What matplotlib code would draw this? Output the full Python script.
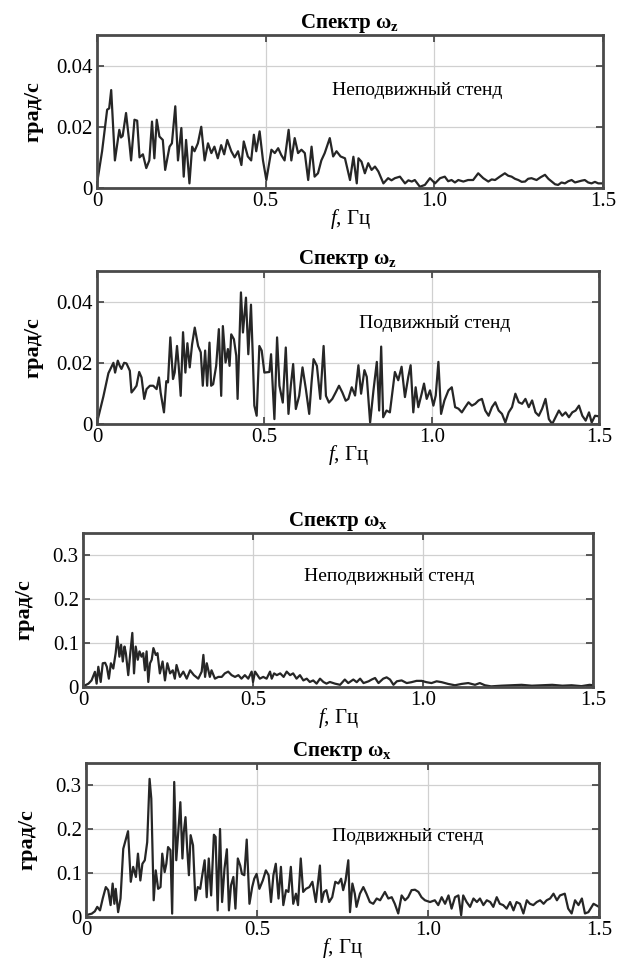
import numpy as np
import matplotlib.pyplot as plt

plt.rcParams['font.family'] = ['Liberation Serif', 'DejaVu Serif']
plt.rcParams['mathtext.fontset'] = 'custom'
plt.rcParams['mathtext.rm'] = 'Liberation Serif'
plt.rcParams['mathtext.it'] = 'Liberation Serif:italic'
plt.rcParams['mathtext.bf'] = 'Liberation Serif:bold'

# --- спектр omega_z, неподвижный стенд ---
f_z_fix = [0, 0.015, 0.030, 0.036, 0.042, 0.053, 0.066, 0.071, 0.076, 0.086, 0.096, 0.101,
           0.111, 0.119, 0.126, 0.136, 0.146, 0.155, 0.163, 0.170, 0.177, 0.185, 0.195,
           0.202, 0.215, 0.222, 0.232, 0.240, 0.250, 0.257, 0.264, 0.274, 0.282, 0.289,
           0.299, 0.309, 0.319, 0.329, 0.339, 0.348, 0.358, 0.368, 0.377, 0.386, 0.398,
           0.408, 0.418, 0.428, 0.435, 0.447, 0.457, 0.465, 0.472, 0.482, 0.492, 0.502,
           0.517, 0.527, 0.537, 0.546, 0.556, 0.568, 0.576, 0.586, 0.596, 0.606, 0.616,
           0.626, 0.636, 0.645, 0.655, 0.665, 0.675, 0.690, 0.700, 0.710, 0.722, 0.735,
           0.750, 0.760, 0.770, 0.775, 0.784, 0.794, 0.804, 0.814, 0.824, 0.834, 0.849,
           0.863, 0.873, 0.883, 0.898, 0.913, 0.923, 0.933, 0.942, 0.957, 0.972, 0.987,
           1.002, 1.017, 1.031, 1.041, 1.051, 1.061, 1.071, 1.086, 1.100, 1.115, 1.130,
           1.145, 1.160, 1.170, 1.180, 1.194, 1.209, 1.219, 1.229, 1.239, 1.249, 1.259,
           1.269, 1.278, 1.288, 1.303, 1.315, 1.328, 1.338, 1.348, 1.358, 1.367, 1.377,
           1.387, 1.397, 1.407, 1.417, 1.427, 1.437, 1.446, 1.456, 1.466, 1.476, 1.486, 1.500]
a_z_fix = [0.0015, 0.012, 0.0256, 0.026, 0.032, 0.009, 0.019, 0.0165, 0.017, 0.0245, 0.0146, 0.009,
           0.0223, 0.022, 0.010, 0.011, 0.0065, 0.009, 0.0217, 0.0097, 0.0223, 0.0168, 0.0157,
           0.0059, 0.0135, 0.0146, 0.0267, 0.009, 0.0196, 0.0037, 0.0157, 0.0015, 0.0135, 0.012,
           0.0146, 0.020, 0.009, 0.0146, 0.0114, 0.0135, 0.0097, 0.014, 0.011, 0.0157, 0.012,
           0.010, 0.012, 0.0075, 0.0152, 0.0103, 0.009, 0.0174, 0.012, 0.0185, 0.009, 0.0026,
           0.0125, 0.0114, 0.013, 0.0108, 0.009, 0.019, 0.009, 0.0163, 0.0114, 0.0125, 0.0114,
           0.0026, 0.0135, 0.0037, 0.0048, 0.009, 0.0114, 0.0163, 0.0103, 0.012, 0.0103, 0.0097,
           0.0026, 0.0102, 0.0015, 0.0097, 0.0086, 0.0048, 0.0081, 0.0059, 0.0070, 0.0054, 0.0015,
           0.0032, 0.0025, 0.0032, 0.0037, 0.0015, 0.0025, 0.0021, 0.0026, 0.0004, 0.0010, 0.0032,
           0.0015, 0.0032, 0.0037, 0.0022, 0.0026, 0.0018, 0.0026, 0.0021, 0.0026, 0.0026, 0.0048,
           0.0032, 0.0021, 0.0028, 0.0026, 0.0037, 0.0048, 0.0040, 0.0037, 0.0030, 0.0026, 0.0020,
           0.0021, 0.0030, 0.0032, 0.0026, 0.0035, 0.0043, 0.0030, 0.0021, 0.0012, 0.0010, 0.0018,
           0.0015, 0.0022, 0.0026, 0.0018, 0.0021, 0.0024, 0.0026, 0.0018, 0.0015, 0.0020, 0.0015, 0.0015]

# --- спектр omega_z, подвижный стенд ---
f_z_mov = [0, 0.019, 0.034, 0.049, 0.054, 0.062, 0.068, 0.073, 0.081, 0.088, 0.098, 0.103,
           0.111, 0.118, 0.126, 0.133, 0.141, 0.148, 0.158, 0.168, 0.178, 0.185, 0.190, 0.200,
           0.207, 0.212, 0.219, 0.227, 0.232, 0.239, 0.244, 0.250, 0.257, 0.264, 0.270, 0.277,
           0.284, 0.292, 0.302, 0.310, 0.316, 0.323, 0.329, 0.336, 0.341, 0.347, 0.356, 0.364,
           0.371, 0.376, 0.384, 0.391, 0.396, 0.401, 0.409, 0.416, 0.420, 0.430, 0.436, 0.445,
           0.452, 0.460, 0.465, 0.470, 0.477, 0.485, 0.492, 0.500, 0.515, 0.520, 0.530, 0.538,
           0.545, 0.555, 0.564, 0.572, 0.579, 0.586, 0.594, 0.604, 0.614, 0.624, 0.634, 0.641,
           0.647, 0.657, 0.667, 0.677, 0.684, 0.693, 0.703, 0.713, 0.723, 0.733, 0.743, 0.751,
           0.761, 0.771, 0.781, 0.789, 0.799, 0.806, 0.816, 0.826, 0.836, 0.843, 0.849, 0.855,
           0.865, 0.875, 0.890, 0.900, 0.910, 0.920, 0.930, 0.937, 0.945, 0.952, 0.960, 0.970,
           0.977, 0.985, 0.995, 1.005, 1.012, 1.020, 1.028, 1.038, 1.050, 1.060, 1.070, 1.080,
           1.090, 1.100, 1.110, 1.120, 1.130, 1.140, 1.150, 1.160, 1.170, 1.180, 1.190, 1.200,
           1.210, 1.220, 1.230, 1.240, 1.250, 1.260, 1.270, 1.280, 1.290, 1.300, 1.310, 1.320,
           1.330, 1.340, 1.350, 1.360, 1.370, 1.380, 1.390, 1.400, 1.410, 1.420, 1.430, 1.440,
           1.450, 1.460, 1.470, 1.478, 1.488, 1.500]
a_z_mov = [0.0005, 0.009, 0.0166, 0.020, 0.0168, 0.0207, 0.019, 0.018, 0.020, 0.0198, 0.0174, 0.0103,
           0.0114, 0.0125, 0.017, 0.0152, 0.0082, 0.0114, 0.0125, 0.0125, 0.0114, 0.0152, 0.0103, 0.0038,
           0.014, 0.0136, 0.0283, 0.0147, 0.0168, 0.0255, 0.019, 0.0092, 0.030, 0.0168, 0.0264, 0.0185,
           0.026, 0.0315, 0.0255, 0.0234, 0.0125, 0.024, 0.0125, 0.0266, 0.0125, 0.013, 0.019, 0.031,
           0.0092, 0.032, 0.0201, 0.0245, 0.019, 0.0293, 0.0277, 0.0223, 0.0082, 0.043, 0.0299, 0.0413,
           0.0228, 0.039, 0.0234, 0.006, 0.0027, 0.0255, 0.024, 0.0168, 0.017, 0.0228, 0.0016, 0.0283,
           0.0125, 0.007, 0.025, 0.0033, 0.0125, 0.0196, 0.0049, 0.0092, 0.0185, 0.0114, 0.0033, 0.0136,
           0.0212, 0.019, 0.0082, 0.0255, 0.0092, 0.007, 0.0082, 0.0103, 0.0125, 0.0103, 0.0076, 0.0082,
           0.012, 0.0093, 0.0192, 0.0099, 0.0176, 0.0154, 0.0005, 0.011, 0.0203, 0.0044, 0.0253, 0.0022,
           0.0044, 0.0038, 0.017, 0.0143, 0.0187, 0.0088, 0.0154, 0.0192, 0.0038, 0.012, 0.0055, 0.0099,
           0.0132, 0.0082, 0.011, 0.006, 0.0093, 0.0203, 0.0033, 0.0077, 0.011, 0.012, 0.0055, 0.005,
           0.0038, 0.0055, 0.0071, 0.006, 0.0066, 0.0077, 0.0082, 0.0044, 0.0027, 0.0055, 0.0071, 0.0044,
           0.0033, 0.0005, 0.0038, 0.0055, 0.0099, 0.0071, 0.0066, 0.0082, 0.0055, 0.0077, 0.0038, 0.0027,
           0.005, 0.0082, 0.0016, 0.0, 0.0022, 0.0044, 0.0027, 0.0038, 0.0022, 0.0038, 0.0044, 0.006,
           0.0027, 0.0011, 0.0038, 0.0005, 0.0027, 0.0025]

# --- спектр omega_x, неподвижный стенд ---
f_x_fix = [0, 0.016, 0.025, 0.035, 0.040, 0.045, 0.052, 0.058, 0.065, 0.070, 0.076, 0.082,
           0.089, 0.096, 0.101, 0.107, 0.112, 0.117, 0.122, 0.126, 0.133, 0.138, 0.145, 0.150,
           0.155, 0.161, 0.166, 0.172, 0.177, 0.182, 0.187, 0.192, 0.197, 0.202, 0.207, 0.214,
           0.219, 0.226, 0.234, 0.241, 0.248, 0.256, 0.264, 0.270, 0.275, 0.285, 0.295, 0.305,
           0.315, 0.326, 0.339, 0.349, 0.354, 0.359, 0.364, 0.373, 0.378, 0.388, 0.398, 0.408,
           0.417, 0.427, 0.437, 0.447, 0.457, 0.466, 0.476, 0.486, 0.496, 0.500, 0.506, 0.513,
           0.520, 0.530, 0.540, 0.550, 0.555, 0.562, 0.570, 0.580, 0.590, 0.599, 0.609, 0.618,
           0.628, 0.638, 0.648, 0.658, 0.667, 0.677, 0.687, 0.697, 0.707, 0.716, 0.726, 0.741,
           0.756, 0.770, 0.780, 0.795, 0.805, 0.815, 0.825, 0.840, 0.849, 0.859, 0.869, 0.883,
           0.893, 0.903, 0.913, 0.923, 0.937, 0.952, 0.966, 0.981, 0.996, 1.010, 1.025, 1.040,
           1.055, 1.074, 1.094, 1.113, 1.133, 1.153, 1.167, 1.182, 1.200, 1.230, 1.260, 1.290,
           1.320, 1.350, 1.380, 1.410, 1.437, 1.466, 1.490, 1.500]
a_x_fix = [0.0015, 0.0077, 0.015, 0.0346, 0.0077, 0.046, 0.0115, 0.054, 0.055, 0.046, 0.019, 0.054,
           0.042, 0.077, 0.115, 0.069, 0.096, 0.058, 0.092, 0.077, 0.027, 0.069, 0.123, 0.031,
           0.092, 0.062, 0.081, 0.069, 0.077, 0.038, 0.081, 0.0115, 0.054, 0.062, 0.0885, 0.073,
           0.077, 0.031, 0.058, 0.015, 0.054, 0.031, 0.038, 0.019, 0.050, 0.023, 0.035, 0.019,
           0.038, 0.027, 0.019, 0.035, 0.073, 0.023, 0.054, 0.023, 0.038, 0.019, 0.023, 0.023,
           0.031, 0.035, 0.027, 0.023, 0.027, 0.019, 0.027, 0.019, 0.035, 0.0115, 0.035, 0.027,
           0.019, 0.023, 0.019, 0.035, 0.019, 0.031, 0.027, 0.031, 0.023, 0.035, 0.027, 0.031,
           0.019, 0.027, 0.015, 0.019, 0.0115, 0.015, 0.0077, 0.019, 0.0115, 0.0077, 0.0115, 0.0077,
           0.005, 0.017, 0.009, 0.017, 0.011, 0.019, 0.009, 0.013, 0.017, 0.0205, 0.009, 0.019,
           0.022, 0.017, 0.005, 0.013, 0.015, 0.009, 0.011, 0.014, 0.014, 0.011, 0.009, 0.013,
           0.011, 0.007, 0.004, 0.007, 0.009, 0.005, 0.009, 0.004, 0.0015, 0.003, 0.004, 0.005,
           0.003, 0.004, 0.005, 0.003, 0.004, 0.002, 0.005, 0.004]

# --- спектр omega_x, подвижный стенд ---
f_x_mov = [0, 0.017, 0.026, 0.033, 0.041, 0.049, 0.058, 0.065, 0.072, 0.078, 0.083, 0.087,
           0.094, 0.101, 0.109, 0.117, 0.123, 0.131, 0.138, 0.146, 0.152, 0.159, 0.165, 0.172,
           0.179, 0.186, 0.191, 0.198, 0.204, 0.211, 0.218, 0.223, 0.230, 0.235, 0.240, 0.247,
           0.252, 0.258, 0.264, 0.271, 0.276, 0.282, 0.286, 0.291, 0.296, 0.301, 0.306, 0.313,
           0.320, 0.327, 0.334, 0.340, 0.347, 0.353, 0.359, 0.366, 0.374, 0.379, 0.385, 0.392,
           0.398, 0.405, 0.412, 0.418, 0.424, 0.431, 0.437, 0.444, 0.451, 0.456, 0.463, 0.470,
           0.478, 0.486, 0.492, 0.499, 0.507, 0.517, 0.526, 0.534, 0.541, 0.548, 0.555, 0.563,
           0.570, 0.577, 0.585, 0.592, 0.599, 0.606, 0.614, 0.620, 0.628, 0.635, 0.643, 0.653,
           0.662, 0.672, 0.684, 0.689, 0.696, 0.703, 0.711, 0.720, 0.729, 0.738, 0.746, 0.752,
           0.759, 0.767, 0.772, 0.779, 0.786, 0.791, 0.801, 0.811, 0.820, 0.830, 0.840, 0.850,
           0.860, 0.874, 0.884, 0.894, 0.903, 0.913, 0.923, 0.933, 0.942, 0.952, 0.962, 0.972,
           0.981, 0.991, 1.006, 1.020, 1.030, 1.040, 1.050, 1.060, 1.069, 1.079, 1.089, 1.097,
           1.103, 1.113, 1.123, 1.133, 1.143, 1.152, 1.162, 1.172, 1.182, 1.191, 1.201, 1.210,
           1.220, 1.230, 1.240, 1.250, 1.259, 1.269, 1.279, 1.289, 1.298, 1.308, 1.318, 1.328,
           1.338, 1.347, 1.357, 1.367, 1.377, 1.386, 1.400, 1.410, 1.420, 1.430, 1.440, 1.450,
           1.459, 1.469, 1.484, 1.500]
a_x_mov = [0.004, 0.0076, 0.013, 0.023, 0.015, 0.042, 0.068, 0.061, 0.027, 0.076, 0.030, 0.064,
           0.011, 0.042, 0.155, 0.178, 0.195, 0.080, 0.114, 0.091, 0.144, 0.083, 0.121, 0.129,
           0.170, 0.314, 0.269, 0.038, 0.106, 0.064, 0.068, 0.144, 0.102, 0.121, 0.159, 0.152,
           0.0076, 0.307, 0.129, 0.208, 0.261, 0.133, 0.193, 0.227, 0.155, 0.095, 0.186, 0.163,
           0.038, 0.068, 0.064, 0.095, 0.129, 0.045, 0.133, 0.049, 0.187, 0.182, 0.015, 0.200,
           0.034, 0.110, 0.154, 0.015, 0.072, 0.091, 0.019, 0.133, 0.117, 0.098, 0.095, 0.176,
           0.030, 0.068, 0.087, 0.098, 0.064, 0.083, 0.106, 0.095, 0.034, 0.095, 0.121, 0.042,
           0.114, 0.027, 0.061, 0.057, 0.114, 0.030, 0.053, 0.027, 0.133, 0.057, 0.064, 0.068,
           0.080, 0.034, 0.117, 0.034, 0.057, 0.061, 0.034, 0.045, 0.080, 0.076, 0.087, 0.061,
           0.083, 0.129, 0.011, 0.076, 0.053, 0.023, 0.053, 0.068, 0.053, 0.034, 0.030, 0.042,
           0.038, 0.057, 0.042, 0.045, 0.030, 0.008, 0.049, 0.038, 0.045, 0.061, 0.062, 0.057,
           0.045, 0.038, 0.034, 0.038, 0.027, 0.045, 0.030, 0.049, 0.019, 0.045, 0.049, 0.004,
           0.049, 0.034, 0.023, 0.042, 0.034, 0.042, 0.027, 0.038, 0.034, 0.023, 0.045, 0.030,
           0.027, 0.019, 0.034, 0.015, 0.034, 0.030, 0.008, 0.038, 0.030, 0.027, 0.034, 0.038,
           0.030, 0.038, 0.042, 0.053, 0.038, 0.049, 0.053, 0.019, 0.008, 0.038, 0.027, 0.042,
           0.008, 0.011, 0.030, 0.023]

titles = [r'Спектр $\mathbf{\omega_z}$', r'Спектр $\mathbf{\omega_z}$',
          r'Спектр $\mathbf{\omega_x}$', r'Спектр $\mathbf{\omega_x}$']
notes = ['Неподвижный стенд', 'Подвижный стенд', 'Неподвижный стенд', 'Подвижный стенд']
y_ticks_z = [0, 0.02, 0.04]
y_labels_z = ['0', '0.02', '0.04']
y_ticks_x = [0, 0.1, 0.2, 0.3]
y_labels_x = ['0', '0.1', '0.2', '0.3']
x_ticks = [0, 0.5, 1.0, 1.5]
x_labels = ['0', '0.5', '1.0', '1.5']

fig = plt.figure(figsize=(6.28, 9.61), dpi=100)

# положение осей на листе: left, bottom, width, height
boxes = [[0.1545, 0.8044, 0.8057, 0.1592],
         [0.1545, 0.5588, 0.7994, 0.1592],
         [0.1322, 0.2851, 0.8121, 0.1602],
         [0.1369, 0.0458, 0.8169, 0.1602]]
series = [(f_z_fix, a_z_fix), (f_z_mov, a_z_mov), (f_x_fix, a_x_fix), (f_x_mov, a_x_mov)]
note_pos = [(0.95, 0.032), (1.01, 0.033), (0.90, 0.252), (0.94, 0.184)]
ylab_pad = [9, 9, 13, 13]

for i in range(4):
    ax = fig.add_axes(boxes[i])
    f, a = series[i]
    ax.plot(f, a, color='#262626', lw=1.6)
    ax.set_xlim(0, 1.5)
    if i < 2:
        ax.set_ylim(0, 0.05)
        ax.set_yticks(y_ticks_z)
        ax.set_yticklabels(y_labels_z)
    else:
        ax.set_ylim(0, 0.35)
        ax.set_yticks(y_ticks_x)
        ax.set_yticklabels(y_labels_x)
    ax.set_xticks(x_ticks)
    ax.set_xticklabels(x_labels)
    ax.grid(True, color='#d0d0d0', lw=0.9)
    ax.tick_params(direction='in', top=True, right=True, length=5, width=1.2,
                   labelsize=15, color='#404040', pad=3)
    for s in ax.spines.values():
        s.set_linewidth(2)
        s.set_color('#4a4a4a')
    ax.set_title(titles[i], fontsize=15, fontweight='bold', pad=5)
    ax.set_ylabel('град/с', fontsize=16, fontweight='bold', labelpad=ylab_pad[i])
    ax.set_xlabel(r'$\mathit{f}$, Гц', fontsize=15, labelpad=-3)
    ax.text(note_pos[i][0], note_pos[i][1], notes[i], fontsize=14, ha='center', va='center')

fig.savefig('out.png', dpi=100)
